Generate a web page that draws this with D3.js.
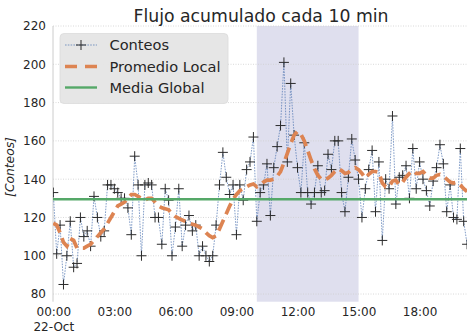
<!DOCTYPE html>
<html>
<head>
<meta charset="utf-8">
<script src="https://cdn.jsdelivr.net/npm/d3@7"></script>
<style>
  html, body { margin: 0; padding: 0; background: #fff; }
  svg { display: block; font-family: "DejaVu Sans", sans-serif; }
</style>
</head>
<body>
<svg id="chart" width="467" height="334"></svg>
<script>
// Ten-minute accumulated counts for 22 Oct, starting at 00:00
const startTime = "2019-10-22T00:00:00Z";
const stepMinutes = 10;

const conteos = [
  133, 101, 116, 85, 100, 118, 94, 96, 120, 110,
  113, 105, 131, 120, 110, 113, 137, 137, 135, 133,
  130, 130, 125, 111, 152, 137, 100, 137, 138, 137,
  120, 120, 106, 135, 129, 100, 115, 135, 105, 116,
  121, 113, 116, 100, 105, 100, 97, 100, 116, 137,
  154, 141, 132, 137, 111, 137, 129, 145, 149, 162,
  118, 133, 137, 148, 121, 146, 157, 168, 201, 149,
  190, 163, 146, 133, 159, 133, 127, 133, 147, 133,
  134, 153, 145, 160, 160, 133, 123, 141, 161, 150,
  140, 120, 135, 145, 155, 123, 149, 108, 140, 135,
  173, 127, 141, 142, 147, 130, 156, 135, 149, 140,
  134, 126, 139, 146, 158, 148, 123, 137, 120, 119,
  156, 118, 106
];

// Local (rolling) average at the same timestamps
const promedioLocal = [
  117, 116, 112, 107, 105, 109, 108, 104, 104, 104,
  105, 106, 108, 110, 112, 114, 117, 120, 123, 126,
  127, 128, 130, 132, 132, 131, 130, 129, 130, 130,
  128, 126, 125, 124.5, 124, 122, 120.5, 119.5, 118.7, 118,
  117, 116.5, 116, 115, 114, 112, 110.5, 109.5, 110.5, 114,
  118, 122, 126, 129.5, 132, 134, 135, 136, 137, 137.5,
  136, 137, 138.5, 139.5, 139.5, 140, 141.5, 144, 148.5, 153.5,
  158.5, 163, 165, 163.5, 160, 155, 150, 145.5, 142, 140,
  139.5, 140.5, 142, 144, 145.5, 144.5, 143, 143.5, 145, 146,
  145, 143, 140.5, 142.5, 144, 144, 143.5, 138, 136, 136,
  139, 139.5, 137, 138.5, 141, 143, 144.5, 143, 143, 144,
  142, 140.5, 140.5, 142, 142.5, 141.5, 140, 138.5, 138, 138.5,
  137, 135, 133.5
];

const mediaGlobal = 129.5;

// Highlighted window (hours of the day)
const bandaHoras = [10, 15];

const yTicks = [80, 100, 120, 140, 160, 180, 200, 220];
const xTickHours = [0, 3, 6, 9, 12, 15, 18];

const titulo = "Flujo acumulado cada 10 min";
const etiquetaY = "[Conteos]";
const leyenda = ["Conteos", "Promedio Local", "Media Global"];

const colores = {
  conteos: "#4c72b0",
  marcador: "#2b2b2b",
  promedio: "#dd8452",
  media: "#55a868",
  banda: "#dfdfee",
  grid: "#cfcfcf",
  texto: "#262626"
};

const t0 = new Date(startTime);
const HOUR = 3600 * 1000;
const tiempos = conteos.map((_, i) => new Date(+t0 + i * stepMinutes * 60000));

const svg = d3.select("#chart");
const plot = { left: 53, top: 26, bottom: 301.7, right: 467 };

const x = d3.scaleUtc()
  .domain([t0, new Date(+t0 + 21 * HOUR)])
  .range([plot.left + 0.3, plot.left + 0.3 + 21 * 20.35]);

const y = d3.scaleLinear()
  .domain([76, 220])
  .range([plot.bottom, plot.top]);

svg.append("defs").append("clipPath").attr("id", "clip")
  .append("rect")
  .attr("x", plot.left).attr("y", plot.top)
  .attr("width", plot.right - plot.left)
  .attr("height", plot.bottom - plot.top);

// Shaded time window
const bx0 = x(new Date(+t0 + bandaHoras[0] * HOUR));
const bx1 = x(new Date(+t0 + bandaHoras[1] * HOUR));
svg.append("rect")
  .attr("x", bx0)
  .attr("y", plot.top)
  .attr("width", bx1 - bx0)
  .attr("height", plot.bottom - plot.top)
  .attr("fill", colores.banda);

// Horizontal grid
svg.append("g")
  .selectAll("line")
  .data(yTicks)
  .join("line")
  .attr("x1", plot.left).attr("x2", plot.right)
  .attr("y1", d => y(d)).attr("y2", d => y(d))
  .attr("stroke", colores.grid)
  .attr("stroke-width", 0.8)
  .attr("stroke-dasharray", "1,1.5");

// Left spine
svg.append("line")
  .attr("x1", plot.left).attr("x2", plot.left)
  .attr("y1", plot.top).attr("y2", plot.bottom)
  .attr("stroke", "#cccccc").attr("stroke-width", 1);

// Y axis
const yAxis = svg.append("g")
  .attr("transform", `translate(${plot.left},0)`)
  .call(d3.axisLeft(y).tickValues(yTicks).tickSize(0).tickPadding(7));
yAxis.select(".domain").remove();
yAxis.selectAll("text")
  .attr("font-size", 12)
  .attr("font-family", "DejaVu Sans")
  .attr("fill", colores.texto);

// X axis
const xAxis = svg.append("g")
  .attr("transform", `translate(0,${plot.bottom})`)
  .call(d3.axisBottom(x)
    .tickValues(xTickHours.map(h => new Date(+t0 + h * HOUR)))
    .tickSize(0).tickPadding(6)
    .tickFormat(d3.utcFormat("%H:%M")));
xAxis.select(".domain").remove();
xAxis.selectAll("text")
  .attr("font-size", 12)
  .attr("font-family", "DejaVu Sans")
  .attr("fill", colores.texto);
xAxis.selectAll(".tick").filter((d, i) => i === 0).select("text")
  .append("tspan")
  .attr("x", 0).attr("dy", "1.2em")
  .text(d3.utcFormat("%d-%b")(t0));

// Data layers
const g = svg.append("g").attr("clip-path", "url(#clip)");

g.append("path")
  .datum(conteos)
  .attr("fill", "none")
  .attr("stroke", colores.conteos)
  .attr("stroke-width", 0.7)
  .attr("stroke-dasharray", "1.6,1.2")
  .attr("d", d3.line().x((d, i) => x(tiempos[i])).y(d => y(d)));

g.append("g")
  .selectAll("path")
  .data(conteos)
  .join("path")
  .attr("transform", (d, i) => `translate(${x(tiempos[i])},${y(d)})`)
  .attr("d", "M-5,0H5M0,-5V5")
  .attr("stroke", colores.marcador)
  .attr("stroke-width", 1)
  .attr("fill", "none");

g.append("path")
  .datum(promedioLocal)
  .attr("fill", "none")
  .attr("stroke", colores.promedio)
  .attr("stroke-width", 3.7)
  .attr("stroke-dasharray", "12,6")
  .attr("d", d3.line().x((d, i) => x(tiempos[i])).y(d => y(d)));

g.append("line")
  .attr("x1", plot.left).attr("x2", plot.right)
  .attr("y1", y(mediaGlobal)).attr("y2", y(mediaGlobal))
  .attr("stroke", colores.media)
  .attr("stroke-width", 2.4);

// Title
svg.append("text")
  .attr("x", 261).attr("y", 22)
  .attr("text-anchor", "middle")
  .attr("font-size", 17.3)
  .attr("fill", colores.texto)
  .text(titulo);

// Y label
svg.append("text")
  .attr("transform", "translate(14,167) rotate(-90)")
  .attr("text-anchor", "middle")
  .attr("font-size", 12.3)
  .attr("font-style", "italic")
  .attr("fill", colores.texto)
  .text(etiquetaY);

// Legend
const lg = svg.append("g").attr("transform", "translate(60,33.5)");
lg.append("rect")
  .attr("width", 168).attr("height", 70).attr("rx", 4)
  .attr("fill", "#e5e5e5").attr("fill-opacity", 0.95)
  .attr("stroke", "#dadada").attr("stroke-width", 0.8);

const filas = [11.5, 33, 54];
// Conteos handle
lg.append("line").attr("x1", 5).attr("x2", 37).attr("y1", filas[0]).attr("y2", filas[0])
  .attr("stroke", colores.conteos).attr("stroke-width", 0.7).attr("stroke-dasharray", "1.6,1.2");
lg.append("path").attr("transform", `translate(21,${filas[0]})`)
  .attr("d", "M-5,0H5M0,-5V5").attr("stroke", colores.marcador).attr("stroke-width", 1);
// Promedio handle
lg.append("line").attr("x1", 5).attr("x2", 37).attr("y1", filas[1]).attr("y2", filas[1])
  .attr("stroke", colores.promedio).attr("stroke-width", 3.7).attr("stroke-dasharray", "12,8");
// Media handle
lg.append("line").attr("x1", 5).attr("x2", 37).attr("y1", filas[2]).attr("y2", filas[2])
  .attr("stroke", colores.media).attr("stroke-width", 2.4);

lg.selectAll("text.lab")
  .data(leyenda)
  .join("text")
  .attr("class", "lab")
  .attr("x", 49.5)
  .attr("y", (d, i) => filas[i] + 5.3)
  .attr("font-size", 14.6)
  .attr("fill", colores.texto)
  .text(d => d);
</script>
</body>
</html>
